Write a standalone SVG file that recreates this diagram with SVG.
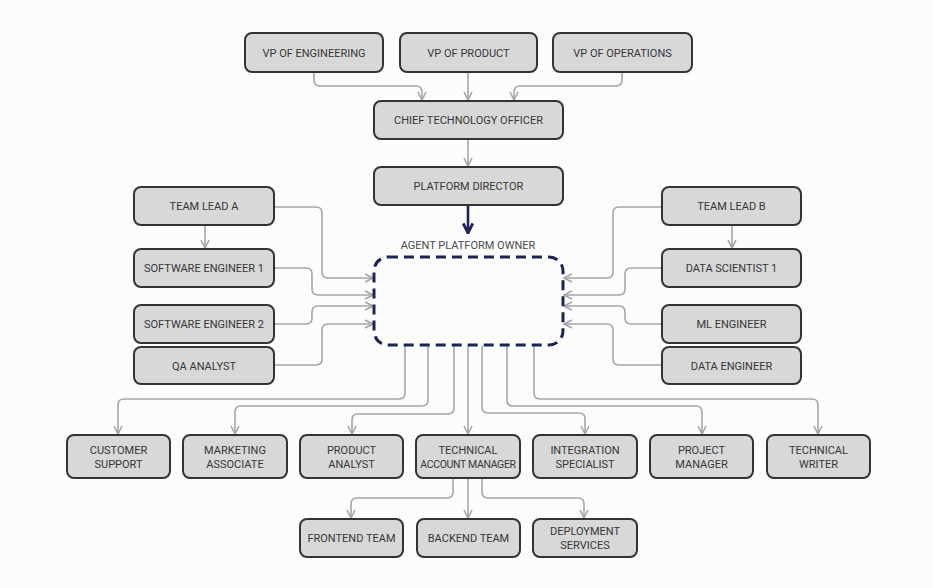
<svg xmlns="http://www.w3.org/2000/svg" width="933" height="588" viewBox="0 0 933 588">
<defs>
<style>
.n rect{fill:#d8d8d8;stroke:#333;stroke-width:2}
.n text,.lbl{font-family:Roboto,"Liberation Sans",sans-serif;font-size:11px;fill:#363636;text-anchor:middle}
.n text.tight{font-size:10.5px;letter-spacing:-0.35px}
.c path{fill:none;stroke:#a6a6a6;stroke-width:1.6;marker-end:url(#ah)}
.c path.main{stroke:#1c2454;stroke-width:2.6;marker-end:url(#ahd)}
</style>
<marker id="ah" viewBox="0 0 10 10" refX="9" refY="5" markerWidth="10" markerHeight="10" markerUnits="userSpaceOnUse" orient="auto">
<path d="M1,1 L9,5 L1,9" fill="none" stroke="#a6a6a6" stroke-width="1.6"/>
</marker>
<marker id="ahd" viewBox="0 0 10 10" refX="9" refY="5" markerWidth="12" markerHeight="12" markerUnits="userSpaceOnUse" orient="auto">
<path d="M1,1 L9,5 L1,9" fill="none" stroke="#1c2454" stroke-width="2.4"/>
</marker>
</defs>
<rect width="933" height="588" fill="#fcfcfc"/>
<g class="c" id="connectors">
<path d="M314,72 V80 Q314,86 320,86 H416 Q422,86 422,92 V100"/>
<path d="M468,72 V100"/>
<path d="M622,72 V80 Q622,86 616,86 H520 Q514,86 514,92 V100"/>
<path d="M468,139 V166"/>
<path class="main" d="M468,205 V233"/>
<path d="M205,225 V248"/>
<path d="M274,207 H316 Q322,207 322,213 V272 Q322,278 328,278 H373"/>
<path d="M274,268 H306 Q312,268 312,274 V289 Q312,295 318,295 H373"/>
<path d="M274,324 H306 Q312,324 312,318 V312 Q312,306 318,306 H373"/>
<path d="M274,365 H316 Q322,365 322,359 V330 Q322,324 328,324 H373"/>
<path d="M732,225 V248"/>
<path d="M662,207 H619 Q613,207 613,213 V272 Q613,278 607,278 H564"/>
<path d="M662,268 H631 Q625,268 625,274 V289 Q625,295 619,295 H564"/>
<path d="M662,324 H631 Q625,324 625,318 V312 Q625,306 619,306 H564"/>
<path d="M662,365 H619 Q613,365 613,359 V330 Q613,324 607,324 H564"/>
<path d="M405,346 V393 Q405,399 399,399 H124 Q118,399 118,405 V434"/>
<path d="M428,346 V400 Q428,406 422,406 H241 Q235,406 235,412 V434"/>
<path d="M454,346 V408 Q454,414 448,414 H358 Q352,414 352,420 V434"/>
<path d="M468,346 V434"/>
<path d="M482,346 V407 Q482,413 488,413 H579 Q585,413 585,419 V434"/>
<path d="M507,346 V400 Q507,406 513,406 H696 Q702,406 702,412 V434"/>
<path d="M534,346 V393 Q534,399 540,399 H812 Q818,399 818,405 V434"/>
<path d="M453,478 V492 Q453,498 447,498 H357 Q351,498 351,504 V518"/>
<path d="M468,478 V518"/>
<path d="M482,478 V492 Q482,498 488,498 H578 Q584,498 584,504 V518"/>
</g>
<g class="n" id="vp-eng"><rect x="245" y="33" width="138" height="39" rx="7"/><text x="314" y="56.5">VP OF ENGINEERING</text></g>
<g class="n" id="vp-prod"><rect x="400" y="33" width="137" height="39" rx="7"/><text x="468.5" y="56.5">VP OF PRODUCT</text></g>
<g class="n" id="vp-ops"><rect x="553" y="33" width="139" height="39" rx="7"/><text x="622.5" y="56.5">VP OF OPERATIONS</text></g>
<g class="n" id="cto"><rect x="374" y="101" width="189" height="38" rx="7"/><text x="468.5" y="124">CHIEF TECHNOLOGY OFFICER</text></g>
<g class="n" id="platform-director"><rect x="374" y="167" width="189" height="38" rx="7"/><text x="468.5" y="190">PLATFORM DIRECTOR</text></g>
<g id="agent-platform-owner">
<text class="lbl" x="468" y="249" style="fill:#4a4a4a">AGENT PLATFORM OWNER</text>
<rect x="374" y="257" width="189" height="88" rx="14" fill="none" stroke="#1c2454" stroke-width="3" stroke-dasharray="10 6"/>
</g>
<g class="n" id="team-lead-a"><rect x="134" y="187" width="140" height="38" rx="7"/><text x="204" y="210">TEAM LEAD A</text></g>
<g class="n" id="se1"><rect x="134" y="249" width="140" height="38" rx="7"/><text x="204" y="272">SOFTWARE ENGINEER 1</text></g>
<g class="n" id="se2"><rect x="134" y="305" width="140" height="38" rx="7"/><text x="204" y="328">SOFTWARE ENGINEER 2</text></g>
<g class="n" id="qa"><rect x="134" y="347" width="140" height="37" rx="7"/><text x="204" y="369.5">QA ANALYST</text></g>
<g class="n" id="team-lead-b"><rect x="662" y="187" width="139" height="38" rx="7"/><text x="731.5" y="210">TEAM LEAD B</text></g>
<g class="n" id="ds1"><rect x="662" y="249" width="139" height="38" rx="7"/><text x="731.5" y="272">DATA SCIENTIST 1</text></g>
<g class="n" id="ml"><rect x="662" y="305" width="139" height="38" rx="7"/><text x="731.5" y="328">ML ENGINEER</text></g>
<g class="n" id="de"><rect x="662" y="347" width="139" height="37" rx="7"/><text x="731.5" y="369.5">DATA ENGINEER</text></g>
<g class="n" id="customer-support"><rect x="67" y="435" width="103" height="43" rx="7"/><text x="118.5" y="454">CUSTOMER</text><text x="118.5" y="468">SUPPORT</text></g>
<g class="n" id="marketing"><rect x="183" y="435" width="104" height="43" rx="7"/><text x="235" y="454">MARKETING</text><text x="235" y="468">ASSOCIATE</text></g>
<g class="n" id="product-analyst"><rect x="300" y="435" width="103" height="43" rx="7"/><text x="351.5" y="454">PRODUCT</text><text x="351.5" y="468">ANALYST</text></g>
<g class="n" id="tam"><rect x="416" y="435" width="104" height="43" rx="7"/><text x="468" y="454">TECHNICAL</text><text class="tight" x="468" y="468">ACCOUNT MANAGER</text></g>
<g class="n" id="integration"><rect x="533" y="435" width="104" height="43" rx="7"/><text x="585" y="454">INTEGRATION</text><text x="585" y="468">SPECIALIST</text></g>
<g class="n" id="project-manager"><rect x="650" y="435" width="103" height="43" rx="7"/><text x="701.5" y="454">PROJECT</text><text x="701.5" y="468">MANAGER</text></g>
<g class="n" id="technical-writer"><rect x="767" y="435" width="103" height="43" rx="7"/><text x="818.5" y="454">TECHNICAL</text><text x="818.5" y="468">WRITER</text></g>
<g class="n" id="frontend"><rect x="300" y="519" width="103" height="38" rx="7"/><text x="351.5" y="542">FRONTEND TEAM</text></g>
<g class="n" id="backend"><rect x="417" y="519" width="103" height="38" rx="7"/><text x="468.5" y="542">BACKEND TEAM</text></g>
<g class="n" id="deployment"><rect x="533" y="519" width="104" height="38" rx="7"/><text x="585" y="535">DEPLOYMENT</text><text x="585" y="549">SERVICES</text></g>
</svg>
